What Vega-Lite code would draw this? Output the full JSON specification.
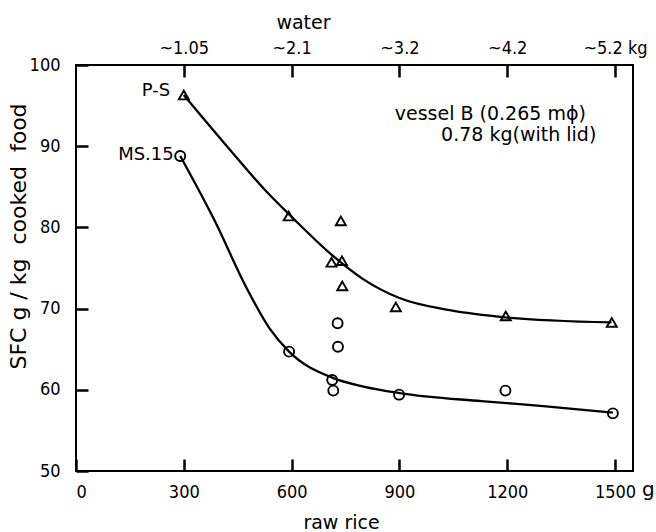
{
  "$schema": "https://vega.github.io/schema/vega-lite/v6.json",
  "autosize": {"type": "none"},
  "padding": {"left": 76, "top": 65, "right": 23, "bottom": 61},
  "width": 557,
  "height": 406,
  "background": "white",
  "config": {
    "view": {"stroke": "black", "strokeWidth": 2},
    "axis": {
      "domain": false, "grid": false, "ticks": true, "tickSize": -12, "tickWidth": 2.5, "tickColor": "black",
      "labelColor": "black", "labelFont": "DejaVu Sans Condensed", "labelFontSize": 18,
      "titleColor": "black", "titleFont": "DejaVu Sans", "titleFontSize": 19, "titleFontWeight": "normal"
    }
  },
  "datasets": {
    "points": [
      {"series": "P-S", "rice": 300, "sfc": 96.3},
      {"series": "P-S", "rice": 592, "sfc": 81.4},
      {"series": "P-S", "rice": 737, "sfc": 80.8},
      {"series": "P-S", "rice": 711, "sfc": 75.7},
      {"series": "P-S", "rice": 740, "sfc": 75.9},
      {"series": "P-S", "rice": 741, "sfc": 72.8},
      {"series": "P-S", "rice": 890, "sfc": 70.2},
      {"series": "P-S", "rice": 1196, "sfc": 69.1},
      {"series": "P-S", "rice": 1491, "sfc": 68.3},
      {"series": "MS-15", "rice": 290, "sfc": 88.8},
      {"series": "MS-15", "rice": 593, "sfc": 64.7},
      {"series": "MS-15", "rice": 728, "sfc": 68.2},
      {"series": "MS-15", "rice": 729, "sfc": 65.3},
      {"series": "MS-15", "rice": 713, "sfc": 61.2},
      {"series": "MS-15", "rice": 716, "sfc": 59.9},
      {"series": "MS-15", "rice": 899, "sfc": 59.4},
      {"series": "MS-15", "rice": 1195, "sfc": 59.9},
      {"series": "MS-15", "rice": 1494, "sfc": 57.1}
    ],
    "curves": [
      {"series": "P-S", "rice": 300, "sfc": 96.3},
      {"series": "P-S", "rice": 420, "sfc": 90.0},
      {"series": "P-S", "rice": 526, "sfc": 84.6},
      {"series": "P-S", "rice": 600, "sfc": 81.3},
      {"series": "P-S", "rice": 720, "sfc": 76.3},
      {"series": "P-S", "rice": 800, "sfc": 73.6},
      {"series": "P-S", "rice": 900, "sfc": 71.3},
      {"series": "P-S", "rice": 1040, "sfc": 69.8},
      {"series": "P-S", "rice": 1200, "sfc": 68.9},
      {"series": "P-S", "rice": 1490, "sfc": 68.3},
      {"series": "MS-15", "rice": 290, "sfc": 88.8},
      {"series": "MS-15", "rice": 385, "sfc": 80.9},
      {"series": "MS-15", "rice": 474, "sfc": 72.6},
      {"series": "MS-15", "rice": 538, "sfc": 67.6},
      {"series": "MS-15", "rice": 593, "sfc": 64.7},
      {"series": "MS-15", "rice": 713, "sfc": 61.5},
      {"series": "MS-15", "rice": 800, "sfc": 60.4},
      {"series": "MS-15", "rice": 900, "sfc": 59.6},
      {"series": "MS-15", "rice": 1128, "sfc": 58.6},
      {"series": "MS-15", "rice": 1300, "sfc": 58.0},
      {"series": "MS-15", "rice": 1494, "sfc": 57.2}
    ],
    "rightLabels": [
      {"text": "P-S", "rice": 262, "sfc": 96.8},
      {"text": "MS.15", "rice": 272, "sfc": 88.9}
    ],
    "leftLabels": [
      {"text": "vessel B (0.265 m\u03d5)", "rice": 887, "sfc": 94.0, "size": 19},
      {"text": "0.78 kg(with lid)", "rice": 1016, "sfc": 91.4, "size": 19},
      {"text": "g", "rice": 1575, "sfc": 47.6, "size": 20}
    ]
  },
  "resolve": {"axis": {"x": "independent"}},
  "layer": [
    {
      "data": {"name": "curves"},
      "mark": {"type": "line", "interpolate": "monotone", "color": "black", "strokeWidth": 2.3},
      "encoding": {
        "x": {"field": "rice", "type": "quantitative", "scale": {"domain": [0, 1550], "nice": false},
          "axis": {"orient": "bottom", "values": [0, 300, 600, 900, 1200, 1500], "format": "d", "title": "raw rice",
            "labelPadding": 24, "titleX": 265, "titleY": 51, "titleBaseline": "middle", "titleAlign": "center"}},
        "y": {"field": "sfc", "type": "quantitative", "scale": {"domain": [50, 100], "nice": false},
          "axis": {"values": [50, 60, 70, 80, 90, 100], "format": "d", "title": "SFC\u00a0g\u00a0/\u00a0kg\u00a0\u00a0cooked\u00a0\u00a0food", "labelPadding": 28,
            "titleFontSize": 22, "titleX": -58, "titleY": 171, "titleAlign": "center", "titleBaseline": "middle", "titleAngle": -90}},
        "detail": {"field": "series"}
      }
    },
    {
      "data": {"name": "points"},
      "mark": {"type": "point", "filled": false, "color": "black", "strokeWidth": 1.9, "opacity": 1},
      "encoding": {
        "x": {"field": "rice", "type": "quantitative", "scale": {"domain": [0, 1550], "nice": false},
          "axis": {"orient": "top", "values": [300, 600, 900, 1200, 1500], "title": "water",
            "labelExpr": "datum.value == 300 ? '~1.05' : datum.value == 600 ? '~2.1' : datum.value == 900 ? '~3.2' : datum.value == 1200 ? '~4.2' : '~5.2 kg'",
            "labelPadding": 20, "titleX": 227, "titleY": -43, "titleBaseline": "middle", "titleAlign": "center"}},
        "y": {"field": "sfc", "type": "quantitative", "scale": {"domain": [50, 100], "nice": false}},
        "shape": {"field": "series", "type": "nominal", "scale": {"domain": ["P-S", "MS-15"], "range": ["triangle-up", "circle"]}, "legend": null},
        "size": {"value": 100}
      }
    },
    {
      "data": {"name": "rightLabels"},
      "mark": {"type": "text", "color": "black", "font": "DejaVu Sans", "fontSize": 18, "align": "right", "baseline": "middle"},
      "encoding": {
        "x": {"field": "rice", "type": "quantitative", "scale": {"domain": [0, 1550], "nice": false}, "axis": null},
        "y": {"field": "sfc", "type": "quantitative", "scale": {"domain": [50, 100], "nice": false}},
        "text": {"field": "text"}
      }
    },
    {
      "data": {"name": "leftLabels"},
      "mark": {"type": "text", "color": "black", "font": "DejaVu Sans", "align": "left", "baseline": "middle"},
      "encoding": {
        "x": {"field": "rice", "type": "quantitative", "scale": {"domain": [0, 1550], "nice": false}, "axis": null},
        "y": {"field": "sfc", "type": "quantitative", "scale": {"domain": [50, 100], "nice": false}},
        "text": {"field": "text"},
        "size": {"field": "size", "type": "quantitative", "scale": null}
      }
    }
  ]
}
